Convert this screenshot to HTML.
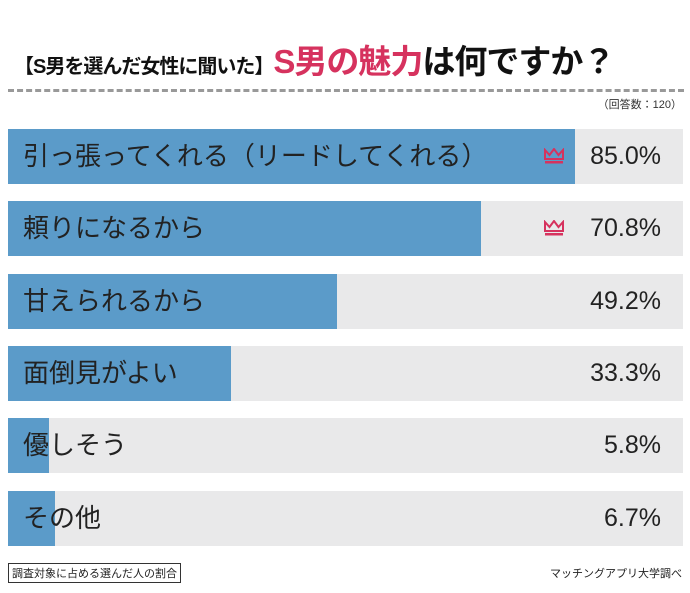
<!DOCTYPE html>
<html><head><meta charset="utf-8"><style>
body{margin:0;width:690px;height:593px;background:#fff;position:relative;overflow:hidden;font-family:"Liberation Sans","Noto Sans CJK JP",sans-serif;}
.abs{position:absolute;}
#title{left:14px;top:35px;font-size:33px;font-weight:bold;color:#111;white-space:nowrap;letter-spacing:-1px}
#title .small{font-size:20px;letter-spacing:-1px}
#title .pink{color:#d6325e}
#dash{left:8px;top:89px;width:676px;border-top:3px dashed #999;}
#n{right:8px;top:96px;font-size:11px;color:#333}
.track{position:absolute;left:8px;width:675px;height:55px;background:#e9e9ea}
.bar{position:absolute;left:0;top:0;height:55px;background:#5b9bc9}
.lbl{position:absolute;left:15px;top:0;line-height:55px;font-size:26px;color:#222;white-space:nowrap}
.val{position:absolute;right:22px;top:0;line-height:55px;font-size:25px;color:#222}
.crown{position:absolute;right:118px;top:19px;width:22px;height:16px}
#note{left:8px;top:563px;border:1px solid #333;font-size:11px;padding:1px 3px;color:#222}
#src{right:8px;top:565px;font-size:11px;color:#222}
</style></head><body>
<div id="title" class="abs"><span class="small">【S男を選んだ女性に聞いた】</span><span class="pink">S男の魅力</span>は何ですか？</div>
<div id="dash" class="abs"></div>
<div id="n" class="abs">（回答数：120）</div>
<div id="chart"></div>
<div id="note" class="abs">調査対象に占める選んだ人の割合</div>
<div id="src" class="abs">マッチングアプリ大学調べ</div>
<script>
const categories=["引っ張ってくれる（リードしてくれる）","頼りになるから","甘えられるから","面倒見がよい","優しそう","その他"];
const values=[85.0,70.8,49.2,33.3,5.8,6.7];
const valueLabels=["85.0%","70.8%","49.2%","33.3%","5.8%","6.7%"];
const topRanked=[true,true,false,false,false,false];
const x=v=>v*6.65+2;
const y=i=>129+i*72.3;
const chart=document.getElementById('chart');
categories.forEach((c,i)=>{
 const t=document.createElement('div');t.className='track';t.style.top=y(i)+'px';
 
 
 const b=document.createElement('div');b.className='bar';b.style.width=x(values[i])+'px';
 
 
 const l=document.createElement('div');l.className='lbl';l.textContent=c;
 
 
 const v=document.createElement('div');v.className='val';v.textContent=valueLabels[i];
 
 
 t.appendChild(b);t.appendChild(l);t.appendChild(v);
 if(topRanked[i]){
  const s=document.createElementNS('http://www.w3.org/2000/svg','svg');
  s.setAttribute('class','crown');s.setAttribute('viewBox','0 0 22 16');
  
  
  s.innerHTML='<path d="M2 2 L6.5 7 L11 1 L15.5 7 L20 2 L20 11 L2 11 Z" fill="none" stroke="#d6325e" stroke-width="2"/><rect x="2" y="13" width="18" height="2.5" fill="#d6325e"/>';
  t.appendChild(s);
 }
 chart.appendChild(t);
});
</script>
</body></html>
